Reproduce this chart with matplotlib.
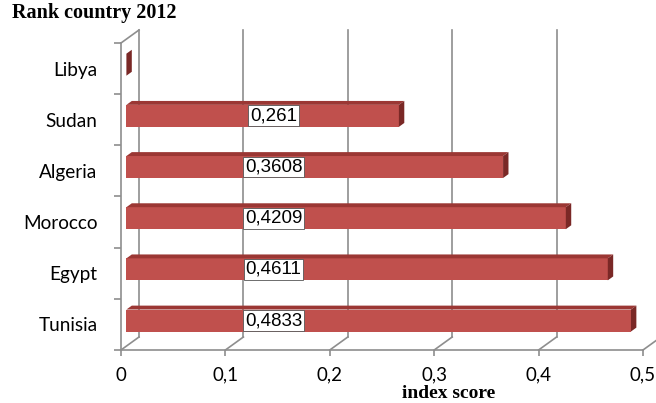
import matplotlib
matplotlib.use("Agg")
import matplotlib.pyplot as plt
import matplotlib.transforms as mtransforms
from matplotlib.patches import Polygon
import numpy as np

countries = ["Tunisia", "Egypt", "Morocco", "Algeria", "Sudan", "Libya"]
scores = [0.4833, 0.4611, 0.4209, 0.3608, 0.261, 0.0]
labels = ["0,4833", "0,4611", "0,4209", "0,3608", "0,261", None]
xticks = [0, 0.1, 0.2, 0.3, 0.4, 0.5]
xtick_labels = ["0", "0,1", "0,2", "0,3", "0,4", "0,5"]

W, H = 656, 403
DEPTH = np.array([18.0, 13.0])      # wall depth in pixels
BAR_FRONT, BAR_BACK = 0.3, 0.6      # bar position inside the depth
BAR_H = 0.43
LABEL_X = 0.141
grid_c = "#8e8e8e"
front_c, top_c, side_c = "#C0504D", "#9B3734", "#7A2826"

fig = plt.figure(figsize=(W / 100, H / 100), dpi=100)
ax = fig.add_axes([121 / W, 1 - 350 / H, (643 - 121) / W, (350 - 43) / H])
ax.set_xlim(0, 0.5)
ax.set_ylim(-0.5, len(countries) - 0.5)
for s in ax.spines.values():
	s.set_visible(False)
ax.patch.set_visible(False)

def px(x, y, d):
	p = ax.transData.transform((x, y))
	return p + d * DEPTH

def shift(d):
	return mtransforms.ScaledTranslation(d * DEPTH[0] / 100, d * DEPTH[1] / 100, fig.dpi_scale_trans)

ident = mtransforms.IdentityTransform()
y0, y1 = ax.get_ylim()

def line(p, q, **kw):
	ax.add_line(plt.Line2D([p[0], q[0]], [p[1], q[1]], transform=ident, color=grid_c, lw=1.2, clip_on=False, **kw))

# walls and floor
line(px(0, y0, 0), px(0, y1, 0))
line(px(0, y1, 0), px(0, y1, 1))
line(px(0, y0, 0), px(0.5, y0, 0))
for x in xticks:
	line(px(x, y0, 0), px(x, y0, 1))
	line(px(x, y0, 1), px(x, y1, 1))

# bars
ypos = np.arange(len(countries))
ax.barh(ypos, scores, height=BAR_H, color=front_c, transform=ax.transData + shift(BAR_FRONT), zorder=3)
for y, v in zip(ypos, scores):
	top = [px(0, y + BAR_H / 2, BAR_FRONT), px(v, y + BAR_H / 2, BAR_FRONT),
		px(v, y + BAR_H / 2, BAR_BACK), px(0, y + BAR_H / 2, BAR_BACK)]
	side = [px(v, y - BAR_H / 2, BAR_FRONT), px(v, y + BAR_H / 2, BAR_FRONT),
		px(v, y + BAR_H / 2, BAR_BACK), px(v, y - BAR_H / 2, BAR_BACK)]
	ax.add_patch(Polygon(top, closed=True, fc=top_c, ec="none", transform=ident, zorder=3, clip_on=False))
	ax.add_patch(Polygon(side, closed=True, fc=side_c, ec="none", transform=ident, zorder=3, clip_on=False))

for y, lab in zip(ypos, labels):
	if lab:
		ax.text(LABEL_X, y, lab, transform=ax.transData + shift(BAR_FRONT), ha="center", va="center",
			fontsize=13.5, family="Liberation Sans", zorder=5,
			bbox=dict(boxstyle="square,pad=0.1", fc="white", ec="#555555", lw=0.6))

# ticks
ax.set_yticks(ypos)
ax.set_yticklabels(countries, family="Lato", fontsize=13.7)
ax.set_yticks(np.arange(len(countries) + 1) - 0.5, minor=True)
ax.tick_params(axis="y", which="major", length=0, pad=17)
ax.tick_params(axis="y", which="minor", length=5, color=grid_c, width=1.2)
ax.set_xticks(xticks)
ax.set_xticklabels(xtick_labels, family="Lato", fontsize=13.5)
ax.tick_params(axis="x", length=4, color=grid_c, width=1.2, pad=8)

fig.text(12 / W, 1 - 18 / H, "Rank country 2012", family="Liberation Serif", weight="bold", fontsize=14.5, va="baseline")
fig.text(449 / W, 1 - 402 / H, "index score", family="Liberation Serif", weight="bold", fontsize=14, ha="center", va="bottom")

fig.savefig("out.png", dpi=100)
